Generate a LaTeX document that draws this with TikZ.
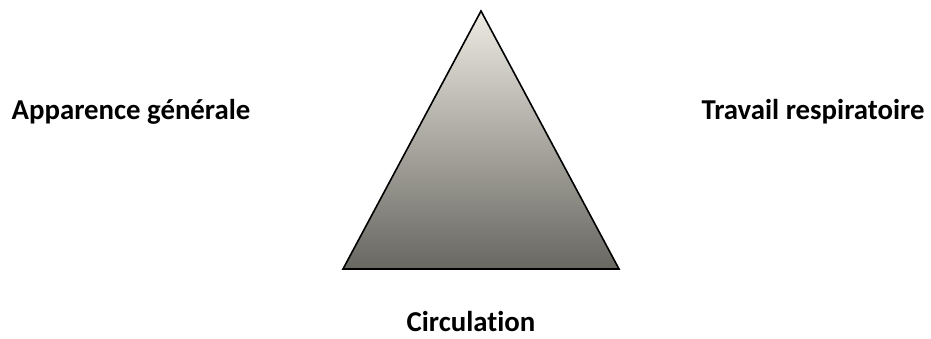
\documentclass[tikz,border=0pt]{standalone}
\usepackage{fontspec}
\setmainfont[Ligatures=NoCommon]{Carlito}
\usepackage{tikz}

\begin{document}
\begin{tikzpicture}[x=1pt,y=-1pt]
    \pgfmathsetmacro{\apexx}{481}
    \pgfmathsetmacro{\apexy}{11}
    \pgfmathsetmacro{\basey}{269}
    \tikzset{label text/.style={font=\fontsize{28.8}{34}\selectfont\bfseries,inner sep=0pt,anchor=base}}
    \definecolor{topgray}{RGB}{236, 234, 225}
    \definecolor{bottomgray}{RGB}{104, 103, 97}
    \useasboundingbox[fill=white] (0,0) rectangle (931,339);
    \coordinate (apex) at (\apexx,\apexy);
    \coordinate (left) at (343,\basey);
    \coordinate (right) at (619,\basey);
    \shade[top color=topgray,bottom color=bottomgray] (apex) -- (right) -- (left) -- cycle;
    \draw[line width=1.6pt,line join=miter] (apex) -- (right) -- (left) -- cycle;
    \node[label text] (general) at (131,120) {Apparence générale};
    \node[label text] (breathing) at (813,120) {Travail respiratoire};
    \node[label text] (circ) at (471,331) {Circulation};
\end{tikzpicture}
\end{document}
